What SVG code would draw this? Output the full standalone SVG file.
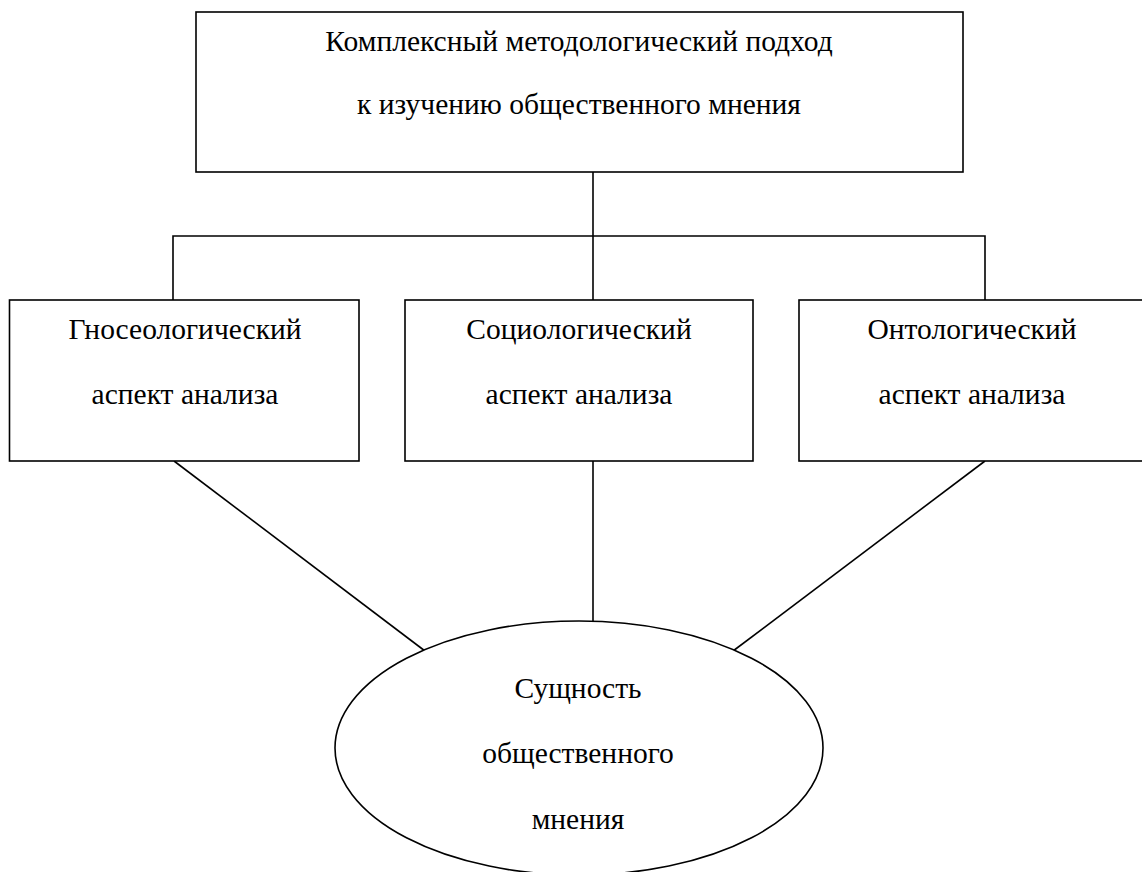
<svg xmlns="http://www.w3.org/2000/svg" width="1142" height="872" viewBox="0 0 1142 872">
<style>
.box{fill:#fff;stroke:#000;stroke-width:1.6}
.ln{fill:none;stroke:#000;stroke-width:1.6}
text{font-family:"Liberation Serif","Times New Roman",serif;font-size:29.5px;fill:#000;text-anchor:middle}
</style>
<rect width="1142" height="872" fill="#fff"/>
<g id="connectors">
<line class="ln" x1="593" y1="172" x2="593" y2="236"/>
<polyline class="ln" points="173,300 173,236 985,236 985,300"/>
<line class="ln" x1="593" y1="236" x2="593" y2="300"/>
<line class="ln" x1="174" y1="461" x2="425" y2="651"/>
<line class="ln" x1="593" y1="461" x2="593" y2="621"/>
<line class="ln" x1="985" y1="461" x2="733" y2="651"/>
</g>
<g id="top">
<rect class="box" x="196" y="12" width="767" height="160"/>
<text x="579" y="51">Комплексный методологический подход</text>
<text x="579" y="114">к изучению общественного мнения</text>
</g>
<g id="gnos">
<rect class="box" x="9.5" y="300" width="349.5" height="161"/>
<text x="185" y="339">Гносеологический</text>
<text x="185" y="404">аспект анализа</text>
</g>
<g id="soc">
<rect class="box" x="405" y="300" width="348" height="161"/>
<text x="579" y="339">Социологический</text>
<text x="579" y="404">аспект анализа</text>
</g>
<g id="ont">
<rect class="box" x="799" y="300" width="346" height="161"/>
<text x="972" y="339">Онтологический</text>
<text x="972" y="404">аспект анализа</text>
</g>
<g id="essence">
<ellipse class="box" cx="579" cy="748" rx="244" ry="127"/>
<text x="578" y="698">Сущность</text>
<text x="578" y="763">общественного</text>
<text x="578" y="829">мнения</text>
</g>
</svg>
